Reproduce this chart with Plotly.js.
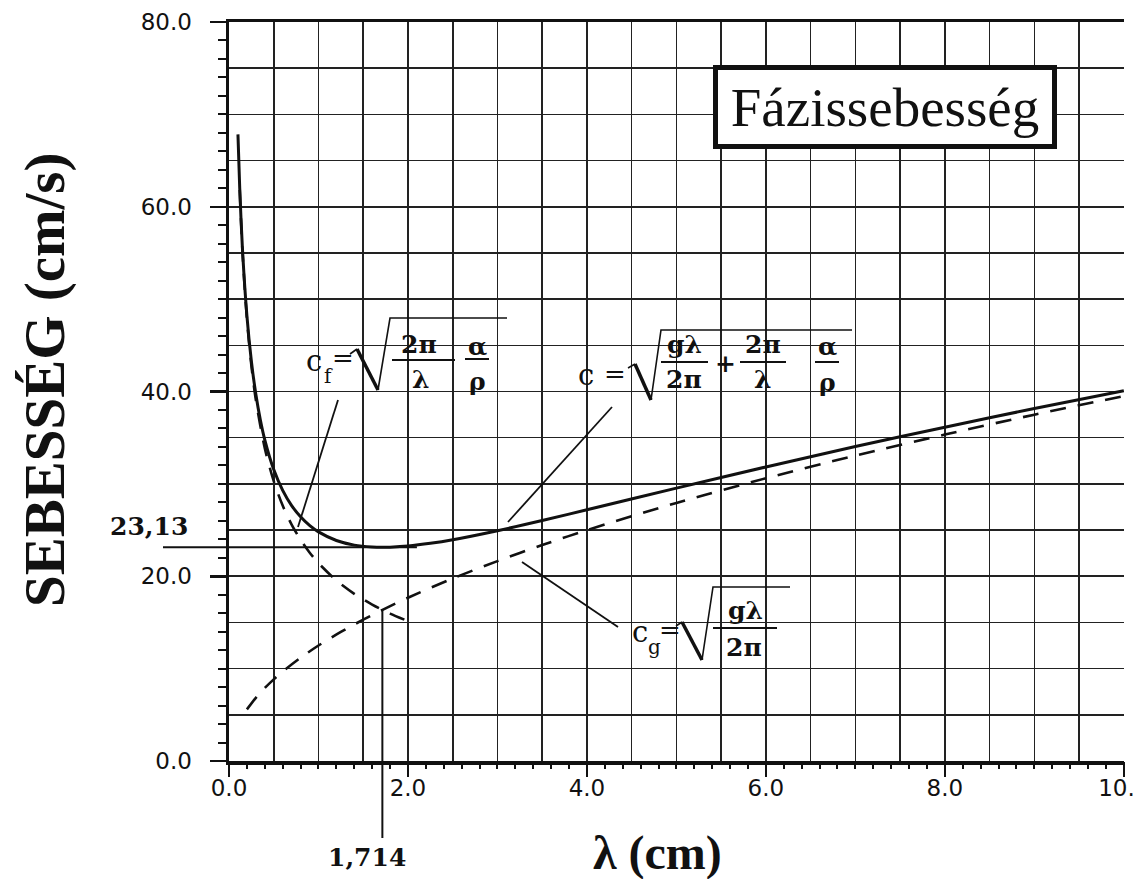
<!DOCTYPE html>
<html><head><meta charset="utf-8">
<script src="https://cdn.plot.ly/plotly-3.0.1.min.js"></script>
<style>html,body{margin:0;padding:0;background:#fff;} #chart{width:1133px;height:879px;}</style>
</head><body><div id="chart"></div>
<script>
// ---- data ----
const lambdaC = [0.10,0.12,0.15,0.20,0.25,0.30,0.35,0.40,0.50,0.60,0.70,0.80,0.90,1.00,1.20,1.40,1.60,1.714,1.80,2.00,2.25,2.50,3.00,3.50,4.00,5.00,6.00,7.00,8.00,9.00,10.0];
const cTotal  = [67.84,61.98,55.51,48.22,43.29,39.70,36.95,34.77,31.55,29.30,27.65,26.43,25.50,24.80,23.87,23.37,23.16,23.13,23.15,23.27,23.56,23.95,24.93,26.03,27.19,29.54,31.83,34.04,36.14,38.16,40.09];
const lambdaF = [0.12,0.15,0.20,0.25,0.30,0.40,0.50,0.60,0.70,0.80,0.90,1.00,1.20,1.40,1.60,1.80,2.00];
const cCapillary = [61.83,55.30,47.89,42.83,39.10,33.86,30.29,27.65,25.60,23.95,22.58,21.42,19.55,18.10,16.93,15.96,15.14];
const lambdaG = [0.20,0.30,0.40,0.50,0.60,0.80,1.00,1.25,1.50,1.75,2.00,2.50,3.00,3.50,4.00,5.00,6.00,7.00,8.00,9.00,10.0];
const cGravity = [5.59,6.84,7.90,8.84,9.68,11.18,12.50,13.97,15.30,16.53,17.67,19.76,21.64,23.38,24.99,27.94,30.61,33.06,35.34,37.49,39.51];
const lambdaMin = 1.714;
const cMin = 23.13;
const cCross = 16.36;
const lambdaMinLabel = "1,714";
const cMinLabel = "23,13";
const boxTitle = "Fázissebesség";
const yTitle = "SEBESSÉG (cm/s)";
const xTitle = "λ (cm)";
const xRange = [0, 10.002];
const yRange = [0, 80];

// ---- layout geometry ----
const W = 1133, H = 879;
const M = {l:229, r:9, t:22, b:118};
const PW = W - M.l - M.r, PH = H - M.t - M.b;
const px = v => (v - M.l) / PW;
const py = v => (H - M.b - v) / PH;
const dx = v => v / xRange[1];
const dy = v => v / yRange[1];

const INK = '#111';
const dashPat = '16px,12px';
const serif = 'DejaVu Serif';

const traces = [
  {x: lambdaC, y: cTotal, mode:'lines', line:{color:INK, width:3, shape:'spline', smoothing:0.8}, hoverinfo:'skip', showlegend:false},
  {x: lambdaF, y: cCapillary, mode:'lines', line:{color:INK, width:2.6, dash:dashPat, shape:'spline', smoothing:0.8}, hoverinfo:'skip', showlegend:false},
  {x: lambdaG, y: cGravity, mode:'lines', line:{color:INK, width:2.6, dash:dashPat, shape:'spline', smoothing:0.8}, hoverinfo:'skip', showlegend:false},
  {x: [], y: [], xaxis:'x2', yaxis:'y2', mode:'lines', hoverinfo:'skip', showlegend:false}
];

function seg(x0,y0,x1,y1,w){ return {type:'line', xref:'paper', yref:'paper', x0:px(x0), y0:py(y0), x1:px(x1), y1:py(y1), line:{color:INK, width:w||1.8}}; }
function poly(pts,w){ let d = 'M ' + pts.map(p => px(p[0]) + ',' + py(p[1])).join(' L '); return {type:'path', xref:'paper', yref:'paper', path:d, line:{color:INK, width:w||1.6}}; }

const shapes = [
  {type:'line', xref:'paper', yref:'paper', x0:px(163), x1:dx(2.1), y0:dy(cMin), y1:dy(cMin), line:{color:INK, width:2}},
  {type:'line', xref:'paper', yref:'paper', x0:dx(lambdaMin), x1:dx(lambdaMin), y0:dy(cCross), y1:py(838), line:{color:INK, width:2}},
  seg(338,400,298,527),
  seg(612,407,508,522),
  seg(522,562,618,627),
  poly([[350,354],[357,349]],1.6), seg(357,349,378,390,3.5), poly([[378,390],[390,318],[507,318]],1.6),
  seg(392,360,455,360,2), seg(465,359,489,359,2),
  poly([[628,368],[635,364]],1.6), seg(635,364,651,400,3.5), poly([[651,400],[661,330],[852,330]],1.6),
  seg(661,362,708,362,2), seg(740,362,786,362,2), seg(815,362,839,362,2),
  poly([[676,626],[682,622]],1.6), seg(682,622,702,660,3.5), poly([[702,660],[713,587],[790,587]],1.6),
  seg(713,628,777,628,2)
];

function txt(t,x,y,size,opts){
  opts = opts || {};
  return Object.assign({text:t, xref:'paper', yref:'paper', x:px(x), y:py(y), xanchor:'center', yanchor:'middle', showarrow:false,
    font:{family: opts.family || serif, size:size, color:INK, weight: opts.weight || 'normal'}}, opts.extra || {});
}
const B = {weight:'bold'};

const annotations = [
  txt(cMinLabel, 149, 526, 25, B),
  txt(lambdaMinLabel, 367, 857, 25, B),
  txt(yTitle, 45, 380, 57, {family:'Liberation Serif', weight:'bold', extra:{textangle:-90}}),
  txt(xTitle, 657, 853, 48, {family:'Liberation Serif', weight:'bold'}),
  txt(boxTitle, 885, 107, 55, {family:'Liberation Serif', extra:{bordercolor:INK, borderwidth:5, borderpad:0, bgcolor:'#fff', width:334, height:74}}),
  // c_f formula
  txt('c', 314, 361, 29), txt('f', 328, 376, 20), txt('=', 343, 358, 26),
  txt('2π', 419, 344, 25, B), txt('λ', 421, 380, 25, B),
  txt('α', 477, 346, 25, B), txt('ρ', 477, 381, 25, B),
  // c formula
  txt('c', 586, 375, 29), txt('=', 615, 374, 26),
  txt('gλ', 684, 344, 25, B), txt('2π', 684, 380, 25, B),
  txt('+', 725, 364, 25, B),
  txt('2π', 763, 344, 25, B), txt('λ', 763, 380, 25, B),
  txt('α', 827, 347, 25, B), txt('ρ', 827, 382, 25, B),
  // c_g formula
  txt('c', 640, 632, 29), txt('g', 654, 647, 20), txt('=', 670, 630, 26),
  txt('gλ', 745, 610, 25, B), txt('2π', 744, 647, 25, B)
];

const gridCol = '#222';
const layout = {
  width: W, height: H,
  margin: {l:M.l, r:M.r, t:M.t, b:M.b, pad:0},
  paper_bgcolor:'#fff', plot_bgcolor:'#fff',
  showlegend:false,
  xaxis: {range:xRange, tick0:0, dtick:2, tickformat:'.1f', ticks:'outside', ticklen:12, tickwidth:2.5, tickcolor:INK,
          showline:true, linewidth:3.5, linecolor:INK, mirror:true, zeroline:false,
          showgrid:true, gridcolor:gridCol, gridwidth:1.6,
          minor:{dtick:0.5, tick0:0, showgrid:true, gridcolor:gridCol, gridwidth:1.6, ticks:''},
          tickfont:{family:'DejaVu Sans', size:23, color:INK}, ticklabelstandoff:-8, ticklabeloverflow:'allow',
          automargin:false, fixedrange:true},
  yaxis: {range:yRange, tick0:0, dtick:20, tickformat:'.1f', ticks:'outside', ticklen:16, tickwidth:2.5, tickcolor:INK,
          showline:true, linewidth:3.5, linecolor:INK, zeroline:false,
          showgrid:true, gridcolor:gridCol, gridwidth:1.6,
          minor:{dtick:5, tick0:0, showgrid:true, gridcolor:gridCol, gridwidth:1.6, ticks:''},
          tickfont:{family:'DejaVu Sans', size:23, color:INK}, ticklabelstandoff:13, automargin:false, fixedrange:true},
  xaxis2: {overlaying:'x', anchor:'y2', range:xRange, tick0:0, dtick:0.2, ticks:'outside', ticklen:7, tickwidth:2, tickcolor:INK,
           showticklabels:false, showgrid:false, zeroline:false, showline:false, automargin:false, fixedrange:true},
  yaxis2: {overlaying:'y', anchor:'x2', side:'left', range:yRange, tick0:0, dtick:2, ticks:'outside', ticklen:10, tickwidth:2, tickcolor:INK,
           showticklabels:false, showgrid:false, zeroline:false, showline:false, automargin:false, fixedrange:true},
  shapes: shapes,
  annotations: annotations
};

Plotly.newPlot('chart', traces, layout, {staticPlot:true, displayModeBar:false});
</script>
</body></html>
